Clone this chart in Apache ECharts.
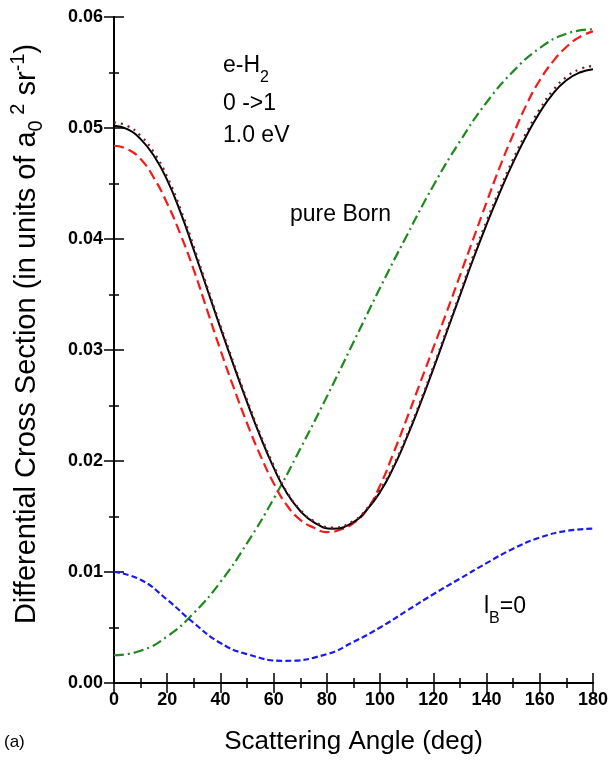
<!DOCTYPE html>
<html><head><meta charset="utf-8">
<script src="https://cdn.jsdelivr.net/npm/echarts@6/dist/echarts.min.js"></script>
<style>html,body{margin:0;padding:0;background:#fff}#chart{width:611px;height:760px}</style>
</head><body><div id="chart"></div>
<script>
// Scattering angles (deg)
const anglesRed = [0,5,10,15,20,25,30,35,40,45,50,55,60,65,70,75,80,85,90,95,100,105,110,115,120,125,130,135,140,145,150,155,160,165,170,175,180];
const anglesSolid = [0,5,10,15,20,25,30,35,40,45,50,55,60,65,70,75,82,90,95,100,105,110,115,120,125,130,135,140,145,150,155,160,165,170,175,180];
const anglesBorn = [0,10,20,30,40,50,60,70,80,90,100,110,120,130,140,150,160,170,180];
const anglesLB0 = [0,10,20,30,40,50,64,80,90,100,110,120,130,140,150,160,170,180];
// Black solid
const fullSolid = [0.0502,0.0499,0.0490,0.0475,0.0453,0.0424,0.0390,0.0355,0.0320,0.0286,0.0253,0.0222,0.0194,0.0171,0.0155,0.0145,0.0139,0.0145,0.0156,0.0172,0.0194,0.0221,0.0251,0.0283,0.0316,0.0349,0.0382,0.0413,0.0442,0.0469,0.0493,0.0514,0.0531,0.0543,0.0550,0.0553];
// Dark red dotted
const fullDotted = [0.0505,0.0502,0.0493,0.0478,0.0456,0.0427,0.0393,0.0357,0.0322,0.0288,0.0255,0.0224,0.0196,0.0172,0.0156,0.0146,0.0140,0.0146,0.0157,0.0174,0.0196,0.0223,0.0253,0.0285,0.0318,0.0351,0.0385,0.0416,0.0445,0.0472,0.0496,0.0517,0.0534,0.0546,0.0553,0.0556];
// Red dashed
const redDashed = [0.0484,0.0481,0.0472,0.0455,0.0432,0.0404,0.0372,0.0336,0.0300,0.0266,0.0234,0.0205,0.0180,0.0160,0.0147,0.0140,0.0136,0.0138,0.0144,0.0156,0.0178,0.0207,0.0238,0.0270,0.0302,0.0334,0.0367,0.0400,0.0433,0.0465,0.0494,0.0521,0.0543,0.0560,0.0573,0.0582,0.0587];
// Pure Born (green dash-dot)
const pureBorn = [0.0025,0.0029,0.0042,0.0063,0.0091,0.0126,0.0166,0.0211,0.0258,0.0307,0.0356,0.0403,0.0448,0.0488,0.0523,0.0551,0.0572,0.0585,0.0589];
// l_B = 0 (blue short dash)
const lB0 = [0.0100,0.0093,0.0075,0.0054,0.0036,0.0026,0.0020,0.0026,0.0037,0.0050,0.0065,0.0080,0.0094,0.0108,0.0121,0.0131,0.0137,0.0139];
const yTicks = ['0.00','0.01','0.02','0.03','0.04','0.05','0.06'];

const FONT = 'Liberation Sans, Arial, Helvetica, sans-serif';
const pairs = (xs, ys) => xs.map((x, i) => [x, ys[i]]);

const chart = echarts.init(document.getElementById('chart'), null, {renderer: 'canvas'});

const baseAxisLine = {show: true, lineStyle: {color: '#000', width: 2}};
const tick = {show: true, inside: true, length: 10, lineStyle: {color: '#000', width: 1.5}};
const minor = {show: true, splitNumber: 2, length: 5, lineStyle: {color: '#000', width: 1.5}};

const lineSeries = (name, data, color, type, width) => ({
  name, type: 'line', data, showSymbol: false, symbol: 'none', smooth: true,
  lineStyle: {color, width, type}, xAxisIndex: 0, yAxisIndex: 0, z: 3
});

chart.setOption({
  animation: false,
  backgroundColor: '#fff',
  grid: {left: 111, right: 16, top: 17, bottom: 75, containLabel: false},
  xAxis: [{
    type: 'value', min: 0, max: 180, interval: 20, position: 'bottom',
    axisLine: baseAxisLine, axisTick: tick, minorTick: minor, splitLine: {show: false},
    axisLabel: {color: '#000', fontFamily: FONT, fontWeight: 'bold', fontSize: 18, margin: 8},
    name: 'Scattering Angle (deg)', nameLocation: 'middle', nameGap: 46,
    nameTextStyle: {color: '#000', fontFamily: FONT, fontSize: 26}
  }, {
    type: 'value', min: 0, max: 180, interval: 20, position: 'top',
    axisLine: baseAxisLine, axisTick: tick, minorTick: minor, splitLine: {show: false},
    axisLabel: {show: false}
  }],
  yAxis: [{
    type: 'value', min: 0, max: 0.06, interval: 0.01, position: 'left',
    axisLine: baseAxisLine, axisTick: tick, minorTick: minor, splitLine: {show: false},
    axisLabel: {color: '#000', fontFamily: FONT, fontWeight: 'bold', fontSize: 18, margin: 11,
      formatter: v => yTicks[Math.round(v * 100)] || v.toFixed(2)},
    name: '{n|Differential Cross Section (in units of a}{sub|0}{sup| 2}{n| sr}{sup|-1}{n|)}',
    nameLocation: 'middle', nameGap: 68,
    nameTextStyle: {color: '#000', fontFamily: FONT, fontSize: 29, padding: [0, 0, 0, 32],
      rich: {
        n: {fontFamily: FONT, fontSize: 29, color: '#000', lineHeight: 38},
        sub: {fontFamily: FONT, fontSize: 20, color: '#000', lineHeight: 38, verticalAlign: 'bottom'},
        sup: {fontFamily: FONT, fontSize: 20, color: '#000', lineHeight: 38, verticalAlign: 'top'}
      }}
  }, {
    type: 'value', min: 0, max: 0.06, interval: 0.01, position: 'right',
    axisLine: baseAxisLine, axisTick: tick, minorTick: minor, splitLine: {show: false},
    axisLabel: {show: false}
  }],
  series: [
    lineSeries('pure Born', pairs(anglesBorn, pureBorn), '#1e8a1e', [10, 4, 2, 4], 2.2),
    lineSeries('lB=0', pairs(anglesLB0, lB0), '#1a1aee', [6, 3], 2.2),
    lineSeries('red dashed', pairs(anglesRed, redDashed), '#f51a1a', [10, 5], 2.2),
    lineSeries('solid', pairs(anglesSolid, fullSolid), '#000000', 'solid', 2),
    lineSeries('dotted', pairs(anglesSolid, fullDotted), '#7a1a28', [2, 5], 2.2)
  ],
  graphic: [
    {type: 'text', left: 223, top: 54, style: {text: '{a|e-H}{s|2}', rich: {
      a: {fontFamily: FONT, fontSize: 23, fill: '#000', lineHeight: 32, verticalAlign: 'top'},
      s: {fontFamily: FONT, fontSize: 16, fill: '#000', lineHeight: 32, verticalAlign: 'bottom'}}}},
    {type: 'text', left: 223, top: 92, style: {text: '0 ->1', font: '23px ' + FONT, fill: '#000'}},
    {type: 'text', left: 223, top: 124, style: {text: '1.0 eV', font: '23px ' + FONT, fill: '#000'}},
    {type: 'text', left: 290, top: 203, style: {text: 'pure Born', font: '23px ' + FONT, fill: '#000'}},
    {type: 'text', left: 484, top: 595, style: {text: '{a|l}{s|B}{a|=0}', rich: {
      a: {fontFamily: FONT, fontSize: 23, fill: '#000', lineHeight: 32, verticalAlign: 'top'},
      s: {fontFamily: FONT, fontSize: 16, fill: '#000', lineHeight: 32, verticalAlign: 'bottom'}}}},
    {type: 'text', left: 4, top: 734, style: {text: '(a)', font: '17px ' + FONT, fill: '#000'}}
  ]
});
</script>
</body></html>
